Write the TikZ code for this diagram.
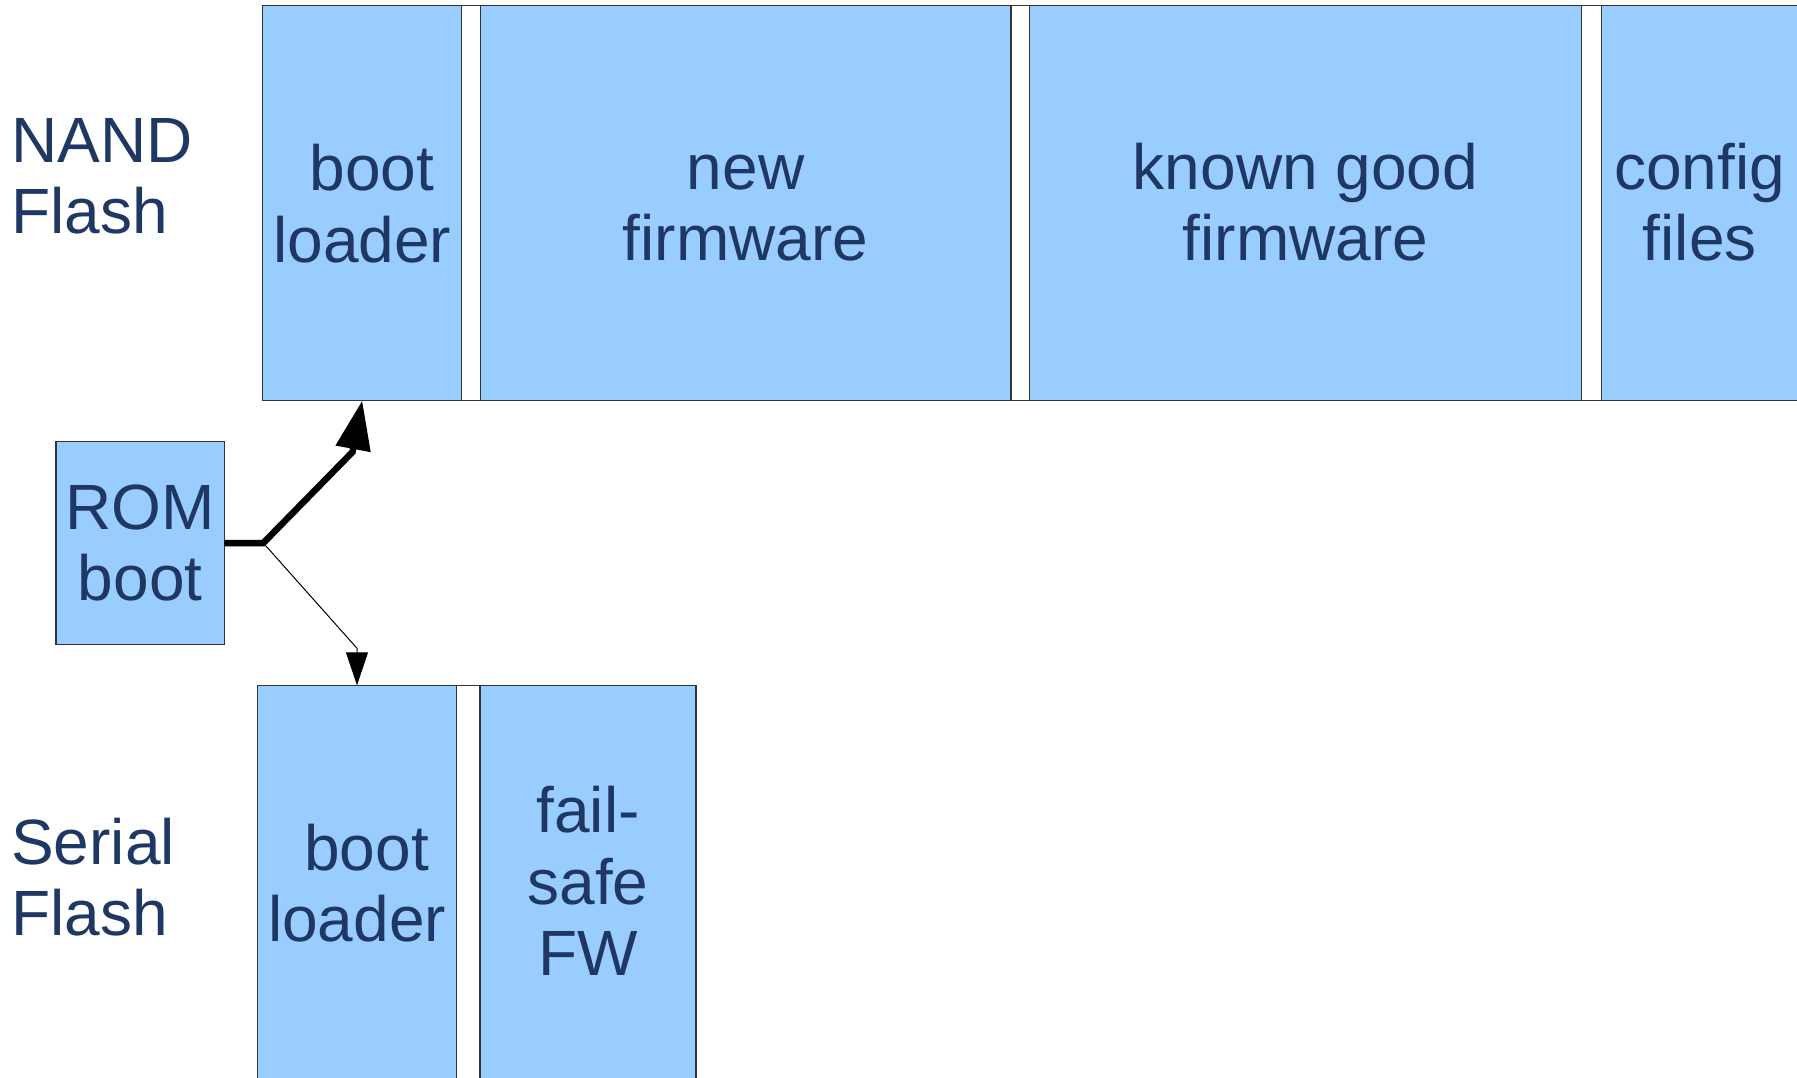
\documentclass[tikz,border=0pt]{standalone}
\usepackage{fontspec}
\setmainfont{Liberation Sans}
\usetikzlibrary{arrows.meta}

\definecolor{blockfill}{HTML}{99CCFF}
\definecolor{blocktext}{HTML}{1F3763}
\definecolor{blockline}{HTML}{333333}

\tikzset{
  block/.style={draw=blockline, line width=1.2pt, fill=blockfill,
    rectangle, inner sep=0pt, outer sep=0pt},
  frame/.style={draw=blockline, line width=1.2pt, fill=white},
  lbl/.style={text=blocktext, inner sep=0pt, outer sep=0pt, align=center,
    font=\fontsize{64}{71.7}\selectfont},
  sidelbl/.style={lbl, align=left, anchor=west},
  mainpath/.style={line width=6.5pt, line join=miter,
    -{Triangle[length=49pt,width=34pt]}},
  sparepath/.style={line width=1pt,
    -{Triangle[length=33pt,width=22pt]}},
}

\begin{document}
\begin{tikzpicture}[x=1pt,y=-1pt]
  \useasboundingbox (0,0) rectangle (1797,1078);
  \clip (0,0) rectangle (1797,1078);

  % NAND flash partition row
  \draw[frame] (262.7,5.3) rectangle (1805,400.7);
  \node[block, minimum width=199pt, minimum height=395.4pt] (nandboot) at (362.2,203) {};
  \node[block, minimum width=530.7pt, minimum height=395.4pt] (newfw) at (745.65,203) {};
  \node[block, minimum width=552.5pt, minimum height=395.4pt] (goodfw) at (1305.45,203) {};
  \node[block, minimum width=198pt, minimum height=395.4pt] (config) at (1700.7,203) {};

  \node[lbl] (tnandboot) at (362.2,211.9) {\strut\kern.3em boot\\\strut loader};
  \node[lbl] (tnewfw) at (745.6,210.7) {\strut new\\\strut firmware};
  \node[lbl] (tgoodfw) at (1305.4,210.7) {\strut known good\\\strut firmware};
  \node[lbl] (tconfig) at (1699.7,210.7) {\strut config\\\strut files};

  % Serial flash partition row
  \draw[frame] (257.3,685.3) rectangle (696,1090);
  \node[block, minimum width=199.4pt, minimum height=404.7pt] (serboot) at (357,887.65) {};
  \node[block, minimum width=216pt, minimum height=404.7pt] (failsafe) at (588,887.65) {};

  \node[lbl] (tserboot) at (357,891.6) {\strut\kern.3em boot\\\strut loader};
  \node[lbl] (tfailsafe) at (588,889.9) {\strut fail-\\\strut safe\\\strut FW};

  % Boot ROM
  \node[block, minimum width=168.3pt, minimum height=202.6pt] (rom) at (140.15,543) {};
  \node[lbl] (trom) at (140.2,550.6) {\strut ROM\\\strut boot};

  % Row captions
  \node[sidelbl] (nandcap) at (11.3,183.6) {\strut NAND\\\strut Flash};
  \node[sidelbl] (sercap) at (11.3,885.6) {\strut Serial\\\strut Flash};

  % Boot paths from the ROM
  \coordinate (split) at (263.3,543);
  \coordinate (upbend) at (352.5,452);
  \coordinate (downbend) at (357,648.3);
  \draw[sparepath] (rom.east) -- (split) -- (downbend) -- (serboot.north);
  \draw[mainpath] (rom.east) -- (split) -- (upbend) -- (nandboot.south);
\end{tikzpicture}
\end{document}
